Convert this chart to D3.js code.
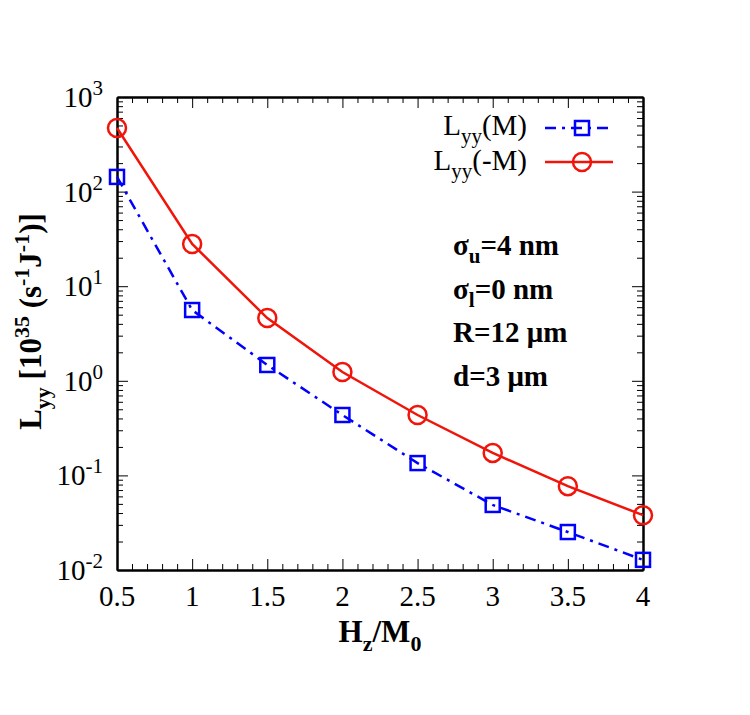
<!DOCTYPE html>
<html>
<head>
<meta charset="utf-8">
<script src="https://d3js.org/d3.v7.min.js"></script>
<style>
  body { margin: 0; background: #fff; }
  svg { font-family: "Liberation Serif", "Times New Roman", serif; }
  .axis path { stroke: #000; stroke-width: 2; }
  .axis line { stroke: #000; stroke-width: 1; }
</style>
</head>
<body>
<script>

// data
var fields = [0.5, 1, 1.5, 2, 2.5, 3, 3.5, 4];
var lyyPlus  = [143, 5.6, 1.47, 0.435, 0.135, 0.0487, 0.0252, 0.0128];
var lyyMinus = [470, 28, 4.6, 1.24, 0.435, 0.173, 0.077, 0.038];
var xTicks = [0.5, 1, 1.5, 2, 2.5, 3, 3.5, 4];
var xTickLabels = ["0.5", "1", "1.5", "2", "2.5", "3", "3.5", "4"];
var yExponents = [-2, -1, 0, 1, 2, 3];
var notes = [
  {main: "\u03c3", sub: "u", rest: "=4 nm"},
  {main: "\u03c3", sub: "l", rest: "=0 nm"},
  {main: "R=12 \u03bcm", sub: "", rest: ""},
  {main: "d=3 \u03bcm", sub: "", rest: ""}
];

var w = 750, h = 715;
var margin = {top: 97, right: 107, bottom: 145, left: 117};
var width = w - margin.left - margin.right,
    height = h - margin.top - margin.bottom;

var svg = d3.select("body").append("svg")
    .attr("width", w).attr("height", h)
  .append("g")
    .attr("transform", "translate(" + margin.left + "," + margin.top + ")");

var x = d3.scaleLinear().domain([0.5, 4]).range([0, width]);
var y = d3.scaleLog().domain([0.01, 1000]).range([height, 0]);

var yMajor = yExponents.map(function(e) { return Math.pow(10, e); });
var yMinor = [];
yExponents.slice(0, -1).forEach(function(e) {
  for (var k = 2; k <= 9; k++) yMinor.push(k * Math.pow(10, e));
});
var xMinor = d3.range(0.6, 4, 0.1).filter(function(v) {
  return Math.abs(v * 2 - Math.round(v * 2)) > 0.01;
});

function addAxis(axis, tr) {
  var g = svg.append("g").attr("class", "axis");
  if (tr) g.attr("transform", tr);
  g.call(axis);
  g.selectAll("text").remove();
  return g;
}

// minor ticks
addAxis(d3.axisBottom(x).tickValues(xMinor).tickSize(-6).tickSizeOuter(0), "translate(0," + height + ")");
addAxis(d3.axisTop(x).tickValues(xMinor).tickSize(-6).tickSizeOuter(0));
addAxis(d3.axisLeft(y).tickValues(yMinor).tickSize(-6).tickSizeOuter(0));
addAxis(d3.axisRight(y).tickValues(yMinor).tickSize(-6).tickSizeOuter(0), "translate(" + width + ",0)");
// major ticks
addAxis(d3.axisBottom(x).tickValues(xTicks).tickSize(-11).tickSizeOuter(0), "translate(0," + height + ")");
addAxis(d3.axisTop(x).tickValues(xTicks).tickSize(-11).tickSizeOuter(0));
addAxis(d3.axisLeft(y).tickValues(yMajor).tickSize(-11).tickSizeOuter(0));
addAxis(d3.axisRight(y).tickValues(yMajor).tickSize(-11).tickSizeOuter(0), "translate(" + width + ",0)");

// tick labels
svg.selectAll(".xlab").data(xTicks).enter().append("text")
  .attr("x", function(d) { return x(d); })
  .attr("y", height + 36)
  .attr("text-anchor", "middle")
  .attr("font-size", 29)
  .text(function(d, i) { return xTickLabels[i]; });

var yl = svg.selectAll(".ylab").data(yExponents).enter().append("text")
  .attr("x", -14)
  .attr("y", function(d) { return y(Math.pow(10, d)) + 10; })
  .attr("text-anchor", "end")
  .attr("font-size", 29);
yl.append("tspan").text("10");
yl.append("tspan").attr("dy", -12).attr("font-size", 21).text(function(d) { return d; });

// curves
var line = d3.line()
  .x(function(d) { return x(d[0]); })
  .y(function(d) { return y(d[1]); });

var plusPts = fields.map(function(f, i) { return [f, lyyPlus[i]]; });
var minusPts = fields.map(function(f, i) { return [f, lyyMinus[i]]; });

var blue = "#0000ff", red = "#f0140a";

svg.append("path").datum(plusPts)
  .attr("fill", "none").attr("stroke", blue).attr("stroke-width", 2.5)
  .attr("stroke-dasharray", "11,6,3,6")
  .attr("d", line);

svg.append("path").datum(minusPts)
  .attr("fill", "none").attr("stroke", red).attr("stroke-width", 2.5)
  .attr("d", line);

svg.selectAll(".sq").data(plusPts).enter().append("rect")
  .attr("x", function(d) { return x(d[0]) - 7; })
  .attr("y", function(d) { return y(d[1]) - 7; })
  .attr("width", 14).attr("height", 14)
  .attr("fill", "none").attr("stroke", blue).attr("stroke-width", 2.5);

svg.selectAll(".ci").data(minusPts).enter().append("circle")
  .attr("cx", function(d) { return x(d[0]); })
  .attr("cy", function(d) { return y(d[1]); })
  .attr("r", 9)
  .attr("fill", "none").attr("stroke", red).attr("stroke-width", 2.5);

// legend
var leg = svg.append("g");
var l1 = leg.append("text").attr("x", 410).attr("y", 38).attr("text-anchor", "end").attr("font-size", 29);
l1.append("tspan").text("L");
l1.append("tspan").attr("dy", 8).attr("font-size", 21).text("yy");
l1.append("tspan").attr("dy", -8).text("(M)");
leg.append("line").attr("x1", 428).attr("x2", 496).attr("y1", 31).attr("y2", 31)
  .attr("stroke", blue).attr("stroke-width", 2.5).attr("stroke-dasharray", "11,6,3,6");
leg.append("rect").attr("x", 458).attr("y", 24).attr("width", 14).attr("height", 14)
  .attr("fill", "none").attr("stroke", blue).attr("stroke-width", 2.5);

var l2 = leg.append("text").attr("x", 410).attr("y", 73).attr("text-anchor", "end").attr("font-size", 29);
l2.append("tspan").text("L");
l2.append("tspan").attr("dy", 8).attr("font-size", 21).text("yy");
l2.append("tspan").attr("dy", -8).text("(-M)");
leg.append("line").attr("x1", 428).attr("x2", 496).attr("y1", 65).attr("y2", 65)
  .attr("stroke", red).attr("stroke-width", 2.5);
leg.append("circle").attr("cx", 465).attr("cy", 65).attr("r", 9)
  .attr("fill", "none").attr("stroke", red).attr("stroke-width", 2.5);

// annotation
notes.forEach(function(n, i) {
  var t = svg.append("text").attr("x", 336).attr("y", 158 + i * 43.5)
    .attr("font-size", 29).attr("font-weight", "bold");
  t.append("tspan").text(n.main);
  if (n.sub) {
    t.append("tspan").attr("dy", 8).attr("font-size", 21).text(n.sub);
    t.append("tspan").attr("dy", -8).text(n.rest);
  }
});

// axis titles
var xt = svg.append("text").attr("x", width / 2).attr("y", height + 72)
  .attr("text-anchor", "middle").attr("font-size", 31).attr("font-weight", "bold");
xt.append("tspan").text("H");
xt.append("tspan").attr("dy", 9).attr("font-size", 22).text("z");
xt.append("tspan").attr("dy", -9).text("/M");
xt.append("tspan").attr("dy", 9).attr("font-size", 22).text("0");

var yt = svg.append("text")
  .attr("transform", "translate(" + (-76) + "," + (height / 2 - 12) + ") rotate(-90)")
  .attr("text-anchor", "middle").attr("font-size", 31).attr("font-weight", "bold");
yt.append("tspan").text("L");
yt.append("tspan").attr("dy", 9).attr("font-size", 22).text("yy");
yt.append("tspan").attr("dy", -9).text(" [10");
yt.append("tspan").attr("dy", -12).attr("font-size", 22).text("35");
yt.append("tspan").attr("dy", 12).text(" (s");
yt.append("tspan").attr("dy", -12).attr("font-size", 22).text("-1");
yt.append("tspan").attr("dy", 12).text("J");
yt.append("tspan").attr("dy", -12).attr("font-size", 22).text("-1");
yt.append("tspan").attr("dy", 12).text(")]");

</script>
</body>
</html>
